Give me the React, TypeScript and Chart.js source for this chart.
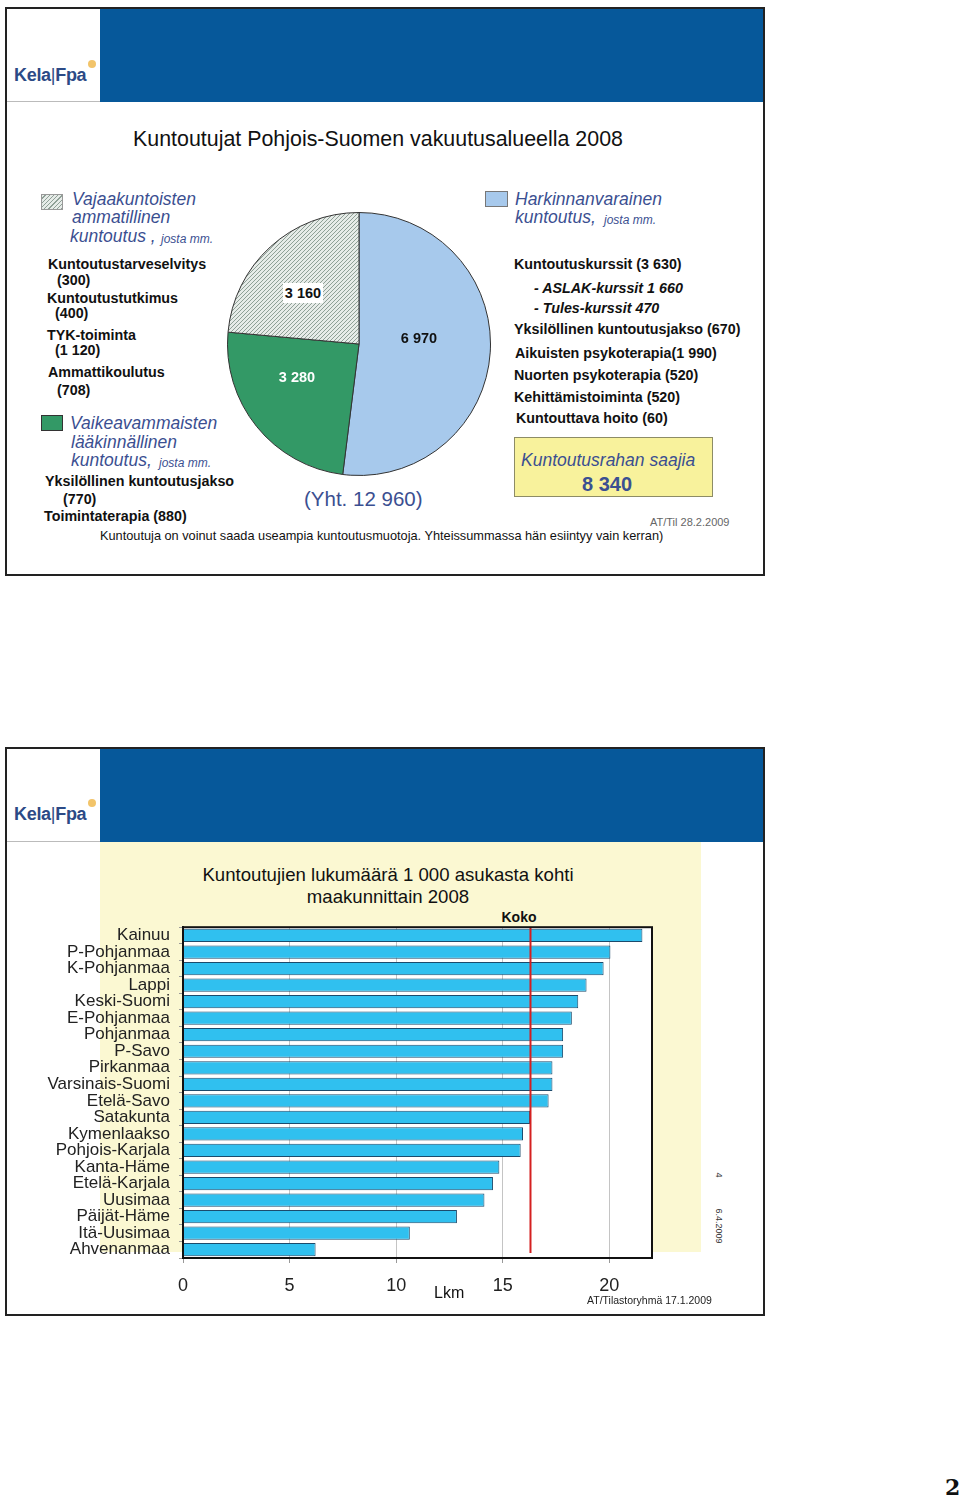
import React, { useEffect, useRef } from "react";
import { Chart, registerables } from "chart.js";
Chart.register(...registerables);

// ---------- data: pie (top slide) ----------
const pieLabels = [
  "Harkinnanvarainen kuntoutus",
  "Vaikeavammaisten lääkinnällinen kuntoutus",
  "Vajaakuntoisten ammatillinen kuntoutus",
];
const pieValues = [6970, 3280, 3160];
const pieColors = ["#a7c9ec", "#339966", "HATCH"];

// ---------- data: bars (bottom slide) ----------
const regions = [
  "Kainuu", "P-Pohjanmaa", "K-Pohjanmaa", "Lappi", "Keski-Suomi", "E-Pohjanmaa",
  "Pohjanmaa", "P-Savo", "Pirkanmaa", "Varsinais-Suomi", "Etelä-Savo", "Satakunta",
  "Kymenlaakso", "Pohjois-Karjala", "Kanta-Häme", "Etelä-Karjala", "Uusimaa",
  "Päijät-Häme", "Itä-Uusimaa", "Ahvenanmaa",
];
const rates = [
  21.55, 20.05, 19.73, 18.93, 18.54, 18.24, 17.83, 17.83, 17.33, 17.33, 17.15, 16.28,
  15.95, 15.84, 14.84, 14.54, 14.14, 12.85, 10.64, 6.22,
];
const KOKO = 16.3;
const xTickValues = [0, 5, 10, 15, 20];
const X_MAX = 22;

const FONT = "'Liberation Sans', Arial, Helvetica, sans-serif";
const BLUE_TXT = "#3b4f91";
const LIST = 14.3;
const HEAD = 17.5;

type TP = {
  x: number; y: number; size: number; bold?: boolean; italic?: boolean;
  color?: string; children: React.ReactNode; center?: boolean; style?: React.CSSProperties;
};
function T({ x, y, size, bold, italic, color, children, center, style }: TP) {
  return (
    <div
      style={{
        position: "absolute",
        left: x,
        top: y,
        transform: center ? "translate(-50%,-50%)" : "translateY(-50%)",
        fontFamily: FONT,
        fontSize: size,
        fontWeight: bold ? 700 : 400,
        fontStyle: italic ? "italic" : "normal",
        color: color || "#111",
        whiteSpace: "nowrap",
        lineHeight: 1,
        ...style,
      }}
    >
      {children}
    </div>
  );
}

function Box({ x, y, w, h, bg, border, style }: { x: number; y: number; w: number; h: number; bg: string; border?: string; style?: React.CSSProperties }) {
  return (
    <div
      style={{
        position: "absolute", left: x, top: y, width: w, height: h, background: bg,
        border: border, boxSizing: "border-box", ...style,
      }}
    />
  );
}

function Logo({ y }: { y: number }) {
  return (
    <>
      <T x={14} y={y} size={18} bold color="#2c4a86" style={{ letterSpacing: -0.3 }}>
        Kela<span style={{ fontWeight: 400 }}>|</span>Fpa
      </T>
      <div style={{ position: "absolute", left: 88, top: y - 15, width: 8, height: 8, borderRadius: 4, background: "#f2c46a" }} />
    </>
  );
}

function Slide({ top }: { top: number }) {
  return (
    <>
      <Box x={5} y={top} w={760} h={569} bg="#fff" border="2px solid #222" />
      <Box x={100} y={top + 2} w={663} h={93} bg="#06589a" />
      <Box x={7} y={top + 94} w={93} h={1} bg="#bbb" />
    </>
  );
}

function makeHatch(): CanvasPattern | string {
  const c = document.createElement("canvas");
  c.width = 4;
  c.height = 4;
  const g = c.getContext("2d");
  if (!g) return "#ccc";
  g.fillStyle = "#e6ebe8";
  g.fillRect(0, 0, 4, 4);
  g.strokeStyle = "#8ea096";
  g.lineWidth = 1;
  g.beginPath();
  g.moveTo(-1, 5);
  g.lineTo(5, -1);
  g.moveTo(-1, 1);
  g.lineTo(1, -1);
  g.moveTo(3, 5);
  g.lineTo(5, 3);
  g.stroke();
  return g.createPattern(c, "repeat") || "#ccc";
}

const framePlugin = {
  id: "frame",
  beforeDraw(chart: any) {
    const { ctx, chartArea: a } = chart;
    ctx.save();
    ctx.fillStyle = "#ffffff";
    ctx.fillRect(a.left, a.top, a.right - a.left, a.bottom - a.top);
    ctx.restore();
  },
  afterDatasetsDraw(chart: any) {
    const { ctx, chartArea: a, scales } = chart;
    const x = scales.x.getPixelForValue(KOKO);
    ctx.save();
    ctx.strokeStyle = "#d42020";
    ctx.lineWidth = 2;
    ctx.beginPath();
    ctx.moveTo(x, a.top);
    ctx.lineTo(x, a.bottom - 5);
    ctx.stroke();
    ctx.restore();
  },
  afterDraw(chart: any) {
    const { ctx, chartArea: a } = chart;
    ctx.save();
    ctx.strokeStyle = "#111";
    ctx.lineWidth = 2;
    ctx.strokeRect(a.left, a.top, a.right - a.left, a.bottom - a.top);
    ctx.restore();
  },
};

export default function App() {
  const pieRef = useRef<HTMLCanvasElement>(null);
  const barRef = useRef<HTMLCanvasElement>(null);

  useEffect(() => {
    const hatch = makeHatch();
    const pie = new Chart(pieRef.current as HTMLCanvasElement, {
      type: "pie",
      data: {
        labels: pieLabels,
        datasets: [
          {
            data: pieValues,
            backgroundColor: pieColors.map((c) => (c === "HATCH" ? hatch : c)) as any,
            borderColor: "#333",
            borderWidth: 1,
          },
        ],
      },
      options: {
        responsive: false,
        animation: false,
        layout: { padding: 0 },
        plugins: { legend: { display: false }, tooltip: { enabled: false } },
      },
    });

    const bar = new Chart(barRef.current as HTMLCanvasElement, {
      type: "bar",
      data: {
        labels: regions,
        datasets: [
          {
            data: rates,
            backgroundColor: "#30c0ef",
            borderColor: "#1c4b6c",
            borderWidth: 1,
            categoryPercentage: 0.8,
            barPercentage: 1,
          },
        ],
      },
      options: {
        indexAxis: "y",
        responsive: false,
        animation: false,
        layout: { padding: { top: 8, right: 48, left: 0, bottom: 0 } },
        plugins: { legend: { display: false }, tooltip: { enabled: false } },
        scales: {
          x: {
            type: "linear",
            min: 0,
            max: X_MAX,
            ticks: { stepSize: 5, font: { size: 18, family: FONT }, color: "#222", padding: 12 },
            grid: { color: "#c4c4c4", tickLength: 5, tickColor: "#999" },
            border: { color: "#111", width: 2 },
            afterBuildTicks: (s: any) => {
              s.ticks = xTickValues.map((v) => ({ value: v }));
            },
            afterFit: (s: any) => {
              s.height = 50;
            },
          },
          y: {
            ticks: { font: { size: 17, family: FONT }, color: "#222", padding: 9, autoSkip: false },
            grid: { drawOnChartArea: false, tickLength: 4, color: "#999", offset: true },
            border: { color: "#111", width: 2 },
            afterFit: (s: any) => {
              s.width = 143;
            },
          },
        },
      },
      plugins: [framePlugin],
    });

    return () => {
      pie.destroy();
      bar.destroy();
    };
  }, []);

  const hatchCss = "repeating-linear-gradient(135deg, #e6ebe8 0 2px, #8ea096 2px 3px)";

  return (
    <div style={{ position: "relative", width: 960, height: 1499, background: "#fff", overflow: "hidden" }}>
      <style>{`body{margin:0}`}</style>

      {/* ================= TOP SLIDE ================= */}
      <Slide top={7} />
      <Logo y={75} />
      <T x={133} y={140} size={21.4}>Kuntoutujat Pohjois-Suomen vakuutusalueella 2008</T>

      <Box x={41} y={194} w={22} h={16} bg={hatchCss} border="1px solid #999" />
      <T x={72} y={200} size={HEAD} italic color={BLUE_TXT}>Vajaakuntoisten</T>
      <T x={72} y={218} size={HEAD} italic color={BLUE_TXT}>ammatillinen</T>
      <T x={70} y={237} size={HEAD} italic color={BLUE_TXT}>kuntoutus ,</T>
      <T x={161} y={239} size={12} italic color={BLUE_TXT}>josta mm.</T>

      <T x={48} y={264} size={LIST} bold>Kuntoutustarveselvitys</T>
      <T x={57} y={280} size={LIST} bold>(300)</T>
      <T x={47} y={298} size={LIST} bold>Kuntoutustutkimus</T>
      <T x={55} y={313} size={LIST} bold>(400)</T>
      <T x={47} y={335} size={LIST} bold>TYK-toiminta</T>
      <T x={55} y={350} size={LIST} bold>(1 120)</T>
      <T x={48} y={372} size={LIST} bold>Ammattikoulutus</T>
      <T x={57} y={390} size={LIST} bold>(708)</T>

      <Box x={41} y={415} w={22} h={16} bg="#339966" border="1px solid #333" />
      <T x={70} y={424} size={HEAD} italic color={BLUE_TXT}>Vaikeavammaisten</T>
      <T x={71} y={443} size={HEAD} italic color={BLUE_TXT}>lääkinnällinen</T>
      <T x={71} y={461} size={HEAD} italic color={BLUE_TXT}>kuntoutus,</T>
      <T x={159} y={463} size={12} italic color={BLUE_TXT}>josta mm.</T>

      <T x={45} y={481} size={LIST} bold>Yksilöllinen kuntoutusjakso</T>
      <T x={63} y={499} size={LIST} bold>(770)</T>
      <T x={44} y={516} size={LIST} bold>Toimintaterapia (880)</T>

      <canvas
        ref={pieRef}
        width={264}
        height={264}
        style={{ position: "absolute", left: 227, top: 212, width: 264, height: 264 }}
      />
      <Box x={283} y={283} w={40} h={20} bg="#fff" />
      <T x={303} y={293} size={14.5} bold center>3 160</T>
      <T x={297} y={377} size={14.5} bold center color="#fff">3 280</T>
      <T x={419} y={338} size={14.5} bold center>6 970</T>
      <T x={304} y={499} size={20.5} color={BLUE_TXT}>(Yht. 12 960)</T>

      <Box x={485} y={191} w={23} h={16} bg="#a7c9ec" border="1px solid #777" />
      <T x={515} y={200} size={HEAD} italic color={BLUE_TXT}>Harkinnanvarainen</T>
      <T x={515} y={218} size={HEAD} italic color={BLUE_TXT}>kuntoutus,</T>
      <T x={604} y={220} size={12} italic color={BLUE_TXT}>josta mm.</T>

      <T x={514} y={264} size={LIST} bold>Kuntoutuskurssit (3 630)</T>
      <T x={534} y={288} size={LIST} bold italic>- ASLAK-kurssit 1 660</T>
      <T x={534} y={308} size={LIST} bold italic>- Tules-kurssit 470</T>
      <T x={514} y={329} size={LIST} bold>Yksilöllinen kuntoutusjakso (670)</T>
      <T x={515} y={353} size={LIST} bold>Aikuisten psykoterapia(1 990)</T>
      <T x={514} y={375} size={LIST} bold>Nuorten psykoterapia (520)</T>
      <T x={514} y={397} size={LIST} bold>Kehittämistoiminta (520)</T>
      <T x={516} y={418} size={LIST} bold>Kuntouttava hoito (60)</T>

      <Box x={514} y={437} w={199} h={60} bg="#f8f29c" border="1px solid #8d8c66" />
      <T x={521} y={461} size={HEAD} italic color={BLUE_TXT}>Kuntoutusrahan saajia</T>
      <T x={582} y={484} size={20} bold color={BLUE_TXT}>8 340</T>

      <T x={650} y={522} size={11} color="#666">AT/Til 28.2.2009</T>
      <T x={100} y={536} size={12.75}>
        Kuntoutuja on voinut saada useampia kuntoutusmuotoja. Yhteissummassa hän esiintyy vain kerran)
      </T>

      {/* ================= BOTTOM SLIDE ================= */}
      <Slide top={747} />
      <Logo y={814} />
      <Box x={100} y={842} w={601} h={410} bg="#fbf8d2" />
      <T x={388} y={875} size={18.6} center>Kuntoutujien lukumäärä 1 000 asukasta kohti</T>
      <T x={388} y={897} size={18.6} center>maakunnittain 2008</T>
      <T x={519} y={917} size={14} bold center>Koko</T>

      <canvas
        ref={barRef}
        width={660}
        height={400}
        style={{ position: "absolute", left: 40, top: 908, width: 660, height: 400 }}
      />

      <T x={434} y={1293} size={16}>Lkm</T>
      <T x={587} y={1300} size={10.5} color="#222">AT/Tilastoryhmä 17.1.2009</T>
      <T x={718} y={1175} size={9} center color="#333" style={{ transform: "translate(-50%,-50%) rotate(90deg)" }}>4</T>
      <T x={718} y={1226} size={9} center color="#333" style={{ transform: "translate(-50%,-50%) rotate(90deg)" }}>6.4.2009</T>

      <div
        style={{
          position: "absolute", left: 945, top: 1476, fontFamily: "'DejaVu Serif', serif",
          fontWeight: 700, fontSize: 22, lineHeight: 1, color: "#111",
        }}
      >
        2
      </div>
    </div>
  );
}
